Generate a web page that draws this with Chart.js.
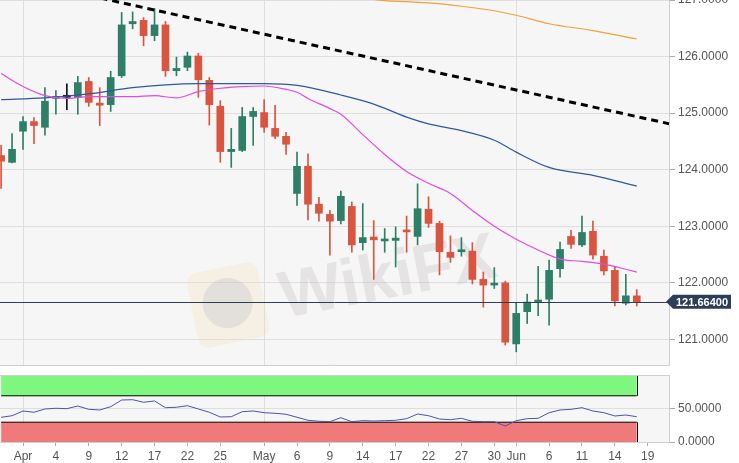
<!DOCTYPE html>
<html>
<head>
<meta charset="utf-8">
<script src="https://cdn.jsdelivr.net/npm/chart.js@4/dist/chart.umd.min.js"></script>
<style>
  html, body { margin: 0; padding: 0; background: #fff; }
  #wrap { position: relative; width: 739px; height: 463px; overflow: hidden; }
  #priceChart { position: absolute; left: 0; top: 0; }
  #rsiChart { position: absolute; left: 0; top: 370px; }
</style>
</head>
<body>
<div id="wrap">
  <canvas id="priceChart" width="739" height="366"></canvas>
  <canvas id="rsiChart" width="739" height="93"></canvas>
</div>
<script>
// trading days (2019), candles run up to 06-18
const dates = ['03-28','03-29',
  '04-01','04-02','04-03','04-04','04-05','04-08','04-09','04-10','04-11','04-12',
  '04-15','04-16','04-17','04-18','04-19','04-22','04-23','04-24','04-25','04-26','04-29','04-30',
  '05-01','05-02','05-03','05-06','05-07','05-08','05-09','05-10','05-13','05-14','05-15','05-16','05-17',
  '05-20','05-21','05-22','05-23','05-24','05-27','05-28','05-29','05-30','05-31',
  '06-03','06-04','06-05','06-06','06-07','06-10','06-11','06-12','06-13','06-14',
  '06-17','06-18','06-19','06-20','06-21'];

const tickDates  = ['04-01','04-04','04-09','04-12','04-17','04-22','04-25','05-01','05-06','05-09',
                    '05-14','05-17','05-22','05-27','05-30','06-03','06-06','06-11','06-14','06-19'];
const tickLabels = ['Apr','4','9','12','17','22','25','May','6','9','14','17','22','27','30','Jun','6','11','14','19'];
const monthStarts = ['04-01','05-01','06-03'];
const priceTicks = [121, 122, 123, 124, 125, 126, 127];
const rsiTicks = [0, 50];

const open = [124.25,124.13,124.68,124.85,124.75,125.26,125.28,125.28,125.56,125.17,
  125.15,125.66,126.58,126.64,126.37,126.56,125.75,125.81,126.01,125.58,
  125.12,124.32,124.34,124.94,125.01,124.73,124.59,123.58,124.06,123.39,
  123.21,123.10,123.35,122.71,122.81,122.74,122.75,122.93,122.82,123.30,
  123.05,122.54,122.55,122.56,122.06,121.96,122.00,120.92,121.49,121.66,
  121.71,122.25,122.82,122.67,122.91,122.47,122.22,121.64,121.77];
const high = [124.43,124.64,124.94,124.92,125.45,125.40,125.52,125.65,125.63,125.45,
  125.74,126.78,126.79,126.69,126.85,126.62,125.99,126.08,126.06,125.63,
  125.22,124.73,125.10,125.10,125.24,125.14,124.66,124.31,124.28,123.51,
  123.28,123.62,123.43,123.40,123.10,122.96,122.99,123.18,123.75,123.52,
  123.09,122.83,122.80,122.71,122.19,122.27,122.03,121.65,121.80,122.29,
  122.40,122.72,122.93,123.18,123.09,122.58,122.28,122.15,121.88];
const low = [123.67,124.12,124.36,124.46,124.61,124.98,125.06,124.98,125.12,124.78,
  125.03,125.63,126.49,126.19,126.28,125.65,125.66,125.75,125.28,124.79,
  124.13,124.04,124.32,124.43,124.66,124.55,124.27,123.37,123.11,123.09,
  122.49,123.04,122.54,122.58,122.06,122.54,122.28,122.54,122.67,122.98,
  122.14,122.36,122.47,121.98,121.57,121.90,120.90,120.78,121.28,121.42,
  121.25,122.10,122.61,122.64,122.42,122.14,121.59,121.61,121.59];
const close = [124.15,124.36,124.85,124.78,125.21,125.28,125.28,125.54,125.19,125.14,
  125.63,126.56,126.62,126.37,126.56,125.75,125.79,126.01,125.59,125.15,
  124.32,124.36,124.94,125.03,124.75,124.59,124.45,124.06,123.39,123.23,
  123.09,123.53,122.67,122.80,122.76,122.76,122.79,122.90,123.31,123.05,
  122.55,122.45,122.58,122.06,121.96,121.99,120.95,121.46,121.66,121.69,
  122.22,122.59,122.68,122.89,122.49,122.21,121.68,121.77,121.664];
const lastPrice = 121.664;

// moving averages at these days
const smaFast = [['03-28',125.70],['04-01',125.47],['04-03',125.31],['04-05',125.26],['04-09',125.29],
  ['04-11',125.29],['04-15',125.29],['04-17',125.31],['04-19',125.27],['04-23',125.38],['04-25',125.44],
  ['04-29',125.47],['05-01',125.48],['05-03',125.42],['05-06',125.37],['05-07',125.26],['05-09',125.08],
  ['05-10',124.98],['05-14',124.62],['05-16',124.27],['05-20',123.97],['05-22',123.76],['05-24',123.58],
  ['05-28',123.28],['05-30',123.00],['06-03',122.77],['06-05',122.58],['06-07',122.42],['06-11',122.38],
  ['06-13',122.33],['06-17',122.24],['06-18',122.19]];
const smaMid = [['03-28',125.24],['04-03',125.27],['04-09',125.34],['04-15',125.45],['04-18',125.50],
  ['04-23',125.52],['04-29',125.52],['05-01',125.52],['05-06',125.49],['05-10',125.32],['05-15',125.16],
  ['05-20',124.93],['05-22',124.81],['05-27',124.69],['05-30',124.52],['06-03',124.31],['06-06',124.04],
  ['06-12',123.90],['06-18',123.71]];
const smaSlow = [['05-13',127.06],['05-16',126.99],['05-20',126.97],['05-22',126.95],['05-27',126.89],
  ['05-30',126.81],['06-03',126.73],['06-06',126.58],['06-12',126.46],['06-18',126.31]];
const trendLine = [['04-09',127.08],['06-21',124.81]];

const rsi = [37.4,39.8,47.0,45.0,50.0,51.1,50.5,54.5,49.5,48.5,
  53.5,63.6,64.1,60.2,62.1,52.0,52.6,55.0,50.0,45.0,
  37.9,38.3,45.9,47.0,44.4,43.5,42.0,37.4,32.9,31.4,
  30.8,36.8,30.8,32.3,31.8,32.3,32.9,35.3,42.4,39.8,
  34.8,33.8,35.9,31.4,30.8,30.8,24.2,32.3,35.3,35.9,
  44.4,48.5,49.5,52.0,47.0,44.4,39.4,40.9,38.3];
const rsiUpper = [70, 100];
const rsiLower = [0, 30];

const GREEN = '#2f7f68', RED = '#d9553f';
const GRID = '#dedede';
const FONT = '"Liberation Sans", Arial, sans-serif';
Chart.defaults.font.family = FONT;
Chart.defaults.font.size = 12;
Chart.defaults.color = '#555';

const pos = d => dates.indexOf(d);
const pts = arr => arr.map(([d, v]) => ({x: pos(d), y: v}));
const candleColor = i => close[i] > open[i] ? GREEN : (close[i] < open[i] ? RED : '#111');
const lastIdx = close.length - 1;
const xMin = -0.1, xMax = 60.94;

function squeezeY(s) { s.width = 70; s.paddingTop = 0; s.paddingBottom = 0; }

const bgPlugin = {
  id: 'bg',
  beforeDraw(chart) {
    const {ctx, chartArea: a} = chart;
    ctx.save();
    ctx.fillStyle = '#f6f6f6';
    ctx.fillRect(a.left, a.top, a.right - a.left, a.bottom - a.top);
    ctx.restore();
  }
};

const pricePlugin = {
  id: 'priceExtras',
  beforeDatasetsDraw(chart) {
    const {ctx} = chart;
    ctx.save();
    // faint watermark
    ctx.translate(228, 305);
    ctx.rotate(-0.2);
    ctx.fillStyle = 'rgba(244,222,170,0.25)';
    ctx.beginPath();
    ctx.roundRect(-36, -38, 72, 76, 10);
    ctx.fill();
    ctx.fillStyle = 'rgba(180,178,195,0.28)';
    ctx.beginPath();
    ctx.arc(0, -2, 25, 0, Math.PI * 2);
    ctx.fill();
    ctx.restore();
    ctx.save();
    ctx.translate(284, 318);
    ctx.rotate(-0.19);
    ctx.font = 'bold 66px ' + FONT;
    ctx.fillStyle = 'rgba(190,182,182,0.3)';
    ctx.fillText('WikiFX', 0, 0);
    ctx.restore();
  },
  afterDatasetsDraw(chart) {
    const {ctx, chartArea: a, scales: {y}} = chart;
    const py = Math.round(y.getPixelForValue(lastPrice)) + 0.5;
    ctx.save();
    ctx.strokeStyle = '#2c3e58';
    ctx.lineWidth = 1;
    ctx.beginPath();
    ctx.moveTo(a.left, py);
    ctx.lineTo(a.right, py);
    ctx.stroke();
    ctx.restore();
  },
  afterDraw(chart) {
    const {ctx, chartArea: a, scales: {y}} = chart;
    const py = y.getPixelForValue(lastPrice);
    ctx.save();
    ctx.strokeStyle = '#cfcfcf';
    ctx.beginPath();
    ctx.moveTo(a.left, a.bottom + 0.5);
    ctx.lineTo(a.right, a.bottom + 0.5);
    ctx.stroke();
    const x0 = a.right - 3;
    ctx.fillStyle = '#2c3e58';
    ctx.beginPath();
    ctx.moveTo(x0, py);
    ctx.lineTo(x0 + 7, py - 7);
    ctx.lineTo(x0 + 65, py - 7);
    ctx.lineTo(x0 + 65, py + 7);
    ctx.lineTo(x0 + 7, py + 7);
    ctx.closePath();
    ctx.fill();
    ctx.fillStyle = '#fff';
    ctx.font = 'bold 11px ' + FONT;
    ctx.textBaseline = 'middle';
    ctx.fillText(lastPrice.toFixed(5), x0 + 10, py + 1);
    ctx.restore();
  }
};

new Chart(document.getElementById('priceChart'), {
  type: 'bar',
  data: {
    datasets: [
      {
        label: 'wicks',
        data: open.map((_, i) => ({x: i, y: [low[i], high[i]]})),
        backgroundColor: c => candleColor(c.dataIndex),
        barThickness: 1,
        grouped: false,
        order: 5
      },
      {
        label: 'bodies',
        data: open.map((o, i) => ({x: i, y: [o, close[i]]})),
        backgroundColor: c => candleColor(c.dataIndex),
        barThickness: 7,
        minBarLength: 2,
        grouped: false,
        order: 4
      },
      { type: 'line', label: 'SMA slow', data: pts(smaSlow), borderColor: '#f0a040', borderWidth: 1.2,
        pointRadius: 0, cubicInterpolationMode: 'monotone', order: 3 },
      { type: 'line', label: 'SMA mid', data: pts(smaMid), borderColor: '#31579e', borderWidth: 1.2,
        pointRadius: 0, cubicInterpolationMode: 'monotone', order: 3 },
      { type: 'line', label: 'SMA fast', data: pts(smaFast), borderColor: '#e04ce0', borderWidth: 1.2,
        pointRadius: 0, cubicInterpolationMode: 'monotone', order: 2 },
      { type: 'line', label: 'trend', data: pts(trendLine), borderColor: '#000', borderWidth: 3,
        borderDash: [7, 5], pointRadius: 0, order: 1 }
    ]
  },
  options: {
    responsive: false,
    animation: false,
    layout: { padding: { left: 0, top: 0, right: 0, bottom: 1 } },
    plugins: { legend: { display: false }, tooltip: { enabled: false } },
    scales: {
      x: {
        type: 'linear', min: xMin, max: xMax, offset: false,
        afterBuildTicks: s => { s.ticks = monthStarts.map(d => ({value: pos(d)})); },
        afterFit: s => { s.height = 0; s.paddingLeft = 0; s.paddingRight = 0; },
        ticks: { display: false },
        grid: { color: GRID, drawTicks: false, offset: false },
        border: { display: false }
      },
      y: {
        position: 'right', min: 120.547, max: 127, beginAtZero: false,
        afterBuildTicks: s => { s.ticks = priceTicks.map(v => ({value: v})); },
        afterFit: squeezeY,
        ticks: { padding: 3, callback: v => v.toFixed(4) },
        grid: { color: GRID, tickColor: '#aaa', tickLength: 6 },
        border: { color: '#cfcfcf' }
      }
    }
  },
  plugins: [bgPlugin, pricePlugin]
});

const rsiPlugin = {
  id: 'rsiExtras',
  afterDatasetsDraw(chart) {
    const {ctx, chartArea: a, scales: {x, y}} = chart;
    const px = Math.round(x.getPixelForValue(lastIdx)) + 0.5;
    ctx.save();
    ctx.strokeStyle = '#000';
    ctx.lineWidth = 1;
    ctx.beginPath();
    ctx.moveTo(px, y.getPixelForValue(rsiUpper[1]));
    ctx.lineTo(px, y.getPixelForValue(rsiUpper[0]));
    ctx.moveTo(px, y.getPixelForValue(rsiLower[1]));
    ctx.lineTo(px, y.getPixelForValue(rsiLower[0]));
    ctx.stroke();
    ctx.strokeStyle = '#cfcfcf';
    ctx.beginPath();
    ctx.moveTo(a.left, a.top + 0.5);
    ctx.lineTo(a.right, a.top + 0.5);
    ctx.stroke();
    ctx.restore();
  }
};

new Chart(document.getElementById('rsiChart'), {
  type: 'line',
  data: {
    datasets: [
      { label: 'upper zone', data: [{x: 0, y: rsiUpper[0]}, {x: lastIdx, y: rsiUpper[0]}],
        borderColor: '#000', borderWidth: 1, backgroundColor: '#7ef77e', fill: {value: rsiUpper[1]},
        pointRadius: 0, order: 2 },
      { label: 'lower zone', data: [{x: 0, y: rsiLower[1]}, {x: lastIdx, y: rsiLower[1]}],
        borderColor: '#000', borderWidth: 1, backgroundColor: '#f07a7a', fill: {value: rsiLower[0]},
        pointRadius: 0, order: 2 },
      { label: 'RSI', data: rsi.map((v, i) => ({x: i, y: v})), borderColor: '#4b53b3', borderWidth: 1,
        pointRadius: 0, tension: 0, order: 1 }
    ]
  },
  options: {
    responsive: false,
    animation: false,
    layout: { padding: { left: 0, top: 5, right: 0, bottom: 0 } },
    plugins: { legend: { display: false }, tooltip: { enabled: false } },
    scales: {
      x: {
        type: 'linear', min: xMin, max: xMax,
        afterBuildTicks: s => { s.ticks = tickDates.map(d => ({value: pos(d)})); },
        afterFit: s => { s.height = 21; s.paddingLeft = 0; s.paddingRight = 0; },
        ticks: { padding: 3, maxRotation: 0, autoSkip: false, callback: (v, i) => tickLabels[i] },
        grid: {
          color: c => (c.tick && monthStarts.map(pos).includes(c.tick.value)) ? GRID : 'rgba(0,0,0,0)',
          tickColor: '#aaa', tickLength: 4
        },
        border: { color: '#cfcfcf' }
      },
      y: {
        position: 'right', min: 0, max: 101.5,
        afterBuildTicks: s => { s.ticks = rsiTicks.map(v => ({value: v})); },
        afterFit: squeezeY,
        ticks: { padding: 3, callback: v => v.toFixed(4) },
        grid: { color: GRID, tickColor: '#aaa', tickLength: 6 },
        border: { color: '#cfcfcf' }
      }
    }
  },
  plugins: [bgPlugin, rsiPlugin]
});
</script>
</body>
</html>
